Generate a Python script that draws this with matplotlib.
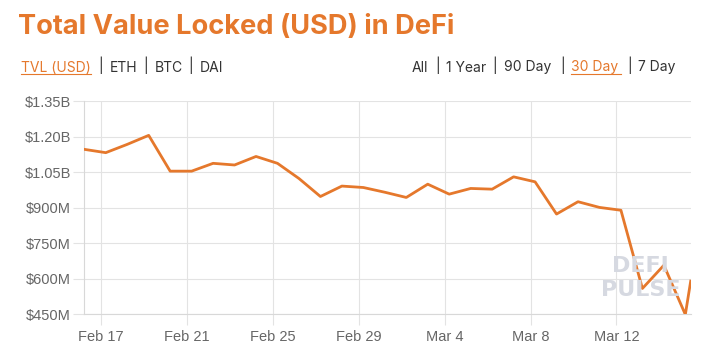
import pandas as pd
import matplotlib
matplotlib.use("Agg")
import matplotlib.pyplot as plt
import matplotlib.dates as mdates
from matplotlib.ticker import FuncFormatter, MultipleLocator
from matplotlib.lines import Line2D

# TVL in millions of USD, one value per day plus the latest (live) reading
tvl_musd = [1146, 1132, 1167, 1205, 1054, 1054, 1087, 1080, 1116, 1087,
            1023, 947, 991, 985, 965, 943, 999, 957, 981, 978,
            1030, 1009, 873, 925, 901, 889, 559, 657, 449, 590]
daily_dates = list(pd.date_range("2020-02-16 05:00", periods=29, freq="D"))
last_date = pd.Timestamp("2020-03-15 11:00")
dates = daily_dates + [last_date]
tick_dates = list(pd.date_range("2020-02-17", periods=7, freq="4D"))

title = "Total Value Locked (USD) in DeFi"
left_tabs = ["TVL (USD)", "ETH", "BTC", "DAI"]
right_tabs = ["All", "1 Year", "90 Day", "30 Day", "7 Day"]

ORANGE = "#e5782c"
GRID = "#e3e3e3"
TICK = "#666666"
DARK = "#333333"
W, H = 710, 351

plt.rcParams["font.family"] = ["Liberation Sans", "DejaVu Sans"]
fig = plt.figure(figsize=(W / 100, H / 100), dpi=100)


def fx(px):
    return px / W


def fy(py):
    return 1 - py / H


ax = fig.add_axes([fx(84.3), fy(314.3), fx(690.7) - fx(84.3), fy(101) - fy(314.3)])

ax.plot(dates, tvl_musd, color=ORANGE, lw=2.0, zorder=3)

ax.set_xlim(dates[0], dates[-1])
ax.set_ylim(450, 1350)
ax.yaxis.set_major_locator(MultipleLocator(150))
ax.yaxis.set_major_formatter(FuncFormatter(
    lambda v, p: f"${v / 1000:.2f}B" if v >= 1000 else f"${v:.0f}M"))
ax.set_xticks(tick_dates)
ax.xaxis.set_major_formatter(FuncFormatter(
    lambda v, p: f"{mdates.num2date(v):%b} {mdates.num2date(v).day}"))

ax.grid(True, color=GRID, lw=0.8, zorder=0)
for s in ["top", "right"]:
    ax.spines[s].set_visible(False)
for s in ["left", "bottom"]:
    ax.spines[s].set_color("#d8d8d8")
    ax.spines[s].set_linewidth(0.8)
ax.tick_params(axis="both", colors=GRID, labelcolor=TICK, labelsize=10.5,
               length=8, width=0.8)
ax.tick_params(axis="y", pad=1.5)
ax.tick_params(axis="x", pad=3)

# watermark
wm_kw = dict(ha="center", va="baseline", fontsize=16, fontweight="bold",
             color="#d6d9e1", zorder=1, family="DejaVu Sans")
fig.text(fx(640), fy(271.5), "DEFI", **wm_kw)
fig.text(fx(640.5), fy(296.5), "PULSE", **wm_kw)

# header
fig.text(fx(18), fy(34.3), title, ha="left", va="baseline", fontsize=19.6,
         fontweight="bold", color=ORANGE, family="Inter")

sub_kw = dict(va="baseline", fontsize=10, family="Inter")
left_x = [20.7, 110, 154.3, 199.3]
left_sep = [100.7, 145.7, 190.7]
for i, (lab, x) in enumerate(zip(left_tabs, left_x)):
    fig.text(fx(x), fy(71.5), lab, ha="left",
             color=ORANGE if i == 0 else DARK, **sub_kw)
for x in left_sep:
    fig.text(fx(x), fy(71.5), "|", ha="center", color=DARK, **sub_kw)
fig.add_artist(Line2D([fx(20.7), fx(90.7)], [fy(74), fy(74)], color=ORANGE, lw=0.8))

right_x = [411.7, 446, 504, 571, 638.3]
right_sep = [437.7, 495, 562.7, 629.3]
for i, (lab, x) in enumerate(zip(right_tabs, right_x)):
    fig.text(fx(x), fy(71.5), lab, ha="left",
             color=ORANGE if i == 3 else DARK, **sub_kw)
for x in right_sep:
    fig.text(fx(x), fy(71.5), "|", ha="center", color=DARK, **sub_kw)
fig.add_artist(Line2D([fx(571), fx(621)], [fy(74), fy(74)], color=ORANGE, lw=0.8))

fig.savefig("out.png", dpi=100, facecolor="white")
